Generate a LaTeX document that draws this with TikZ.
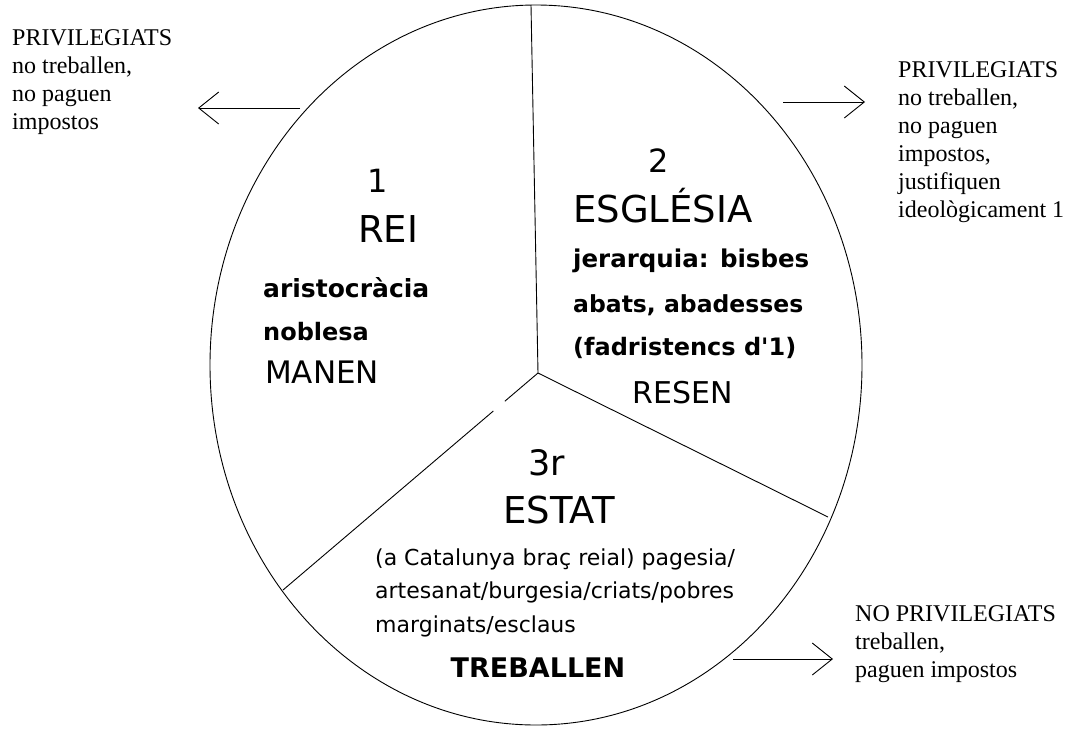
\documentclass[tikz,border=0pt]{standalone}
\usepackage{fontspec}
\setmainfont{Liberation Serif}
\newfontfamily\cs{DejaVu Sans}
\usetikzlibrary{arrows.meta,calc}
\begin{document}
\begin{tikzpicture}[x=1pt,y=-1pt,
  ln/.style={line width=0.9pt, black},
  arr/.style={ln, -{Straight Barb[length=20pt,width=32pt]}},
  t/.style={inner sep=0pt, anchor=base west},
  ser/.style={t, font=\fontsize{24}{28}\selectfont},
  csr/.style={t, font=\cs\fontsize{#1}{#1}\selectfont},
  csb/.style={t, font=\cs\bfseries\fontsize{#1}{#1}\selectfont}
]
\useasboundingbox (0,0) rectangle (1072,729);
% ellipse and dividers
\draw[ln] (536,365) ellipse [x radius=326pt, y radius=360pt];
\coordinate (c) at (538,373);
\coordinate (top) at (531,5);
\coordinate (rb) at (828,517);
\coordinate (lb) at (283,590);
\draw[ln] (c) -- (top);
\draw[ln] (c) -- (rb);
\draw[ln] (c) -- ($(c)!0.13!(lb)$);
\draw[ln] ($(c)!0.175!(lb)$) -- (lb);
% arrows
\coordinate (a1s) at (300,108); \coordinate (a1e) at (198,108);
\coordinate (a2s) at (783,102); \coordinate (a2e) at (865,102);
\coordinate (a3s) at (733,659); \coordinate (a3e) at (833,659);
\draw[arr] (a1s) -- (a1e);
\draw[arr] (a2s) -- (a2e);
\draw[arr] (a3s) -- (a3e);
% outer texts left
\node[ser] (L1) at (12,45) {PRIVILEGIATS};
\node[ser] (L2) at (12,73) {no treballen,};
\node[ser] (L3) at (12,101) {no paguen};
\node[ser] (L4) at (12,129) {impostos};
% outer texts right top
\node[ser] (R1) at (898,77) {PRIVILEGIATS};
\node[ser] (R2) at (898,105) {no treballen,};
\node[ser] (R3) at (898,133) {no paguen};
\node[ser] (R4) at (898,161) {impostos,};
\node[ser] (R5) at (898,189) {justifiquen};
\node[ser] (R6) at (898,217) {ideològicament 1};
% outer texts bottom right
\node[ser] (B1) at (855,621) {NO PRIVILEGIATS};
\node[ser] (B2) at (855,649) {treballen,};
\node[ser] (B3) at (855,677) {paguen impostos};
% sector 1
\node[csr=32, anchor=base] (n1) at (378,192) {1};
\node[csr=37] (rei) at (358,242) {REI};
\node[csb=25] (ar) at (263,297) {aristocràcia};
\node[csb=24] (nob) at (263,340) {noblesa};
\node[csr=31] (man) at (265,383) {MANEN};
% sector 2
\node[csr=32, anchor=base] (n2) at (659,172) {2};
\node[csr=37] (esg) at (573,222) {ESGLÉSIA};
\node[csb=24.5] (jer) at (573,267) {jerarquia: bisbes};
\node[csb=23.5] (aba) at (573,312) {abats, abadesses};
\node[csb=24] (fad) at (573,355) {(fadristencs d'1)};
\node[csr=30] (res) at (632,403) {RESEN};
% sector 3
\node[csr=35] (n3) at (528,475) {3r};
\node[csr=37] (est) at (503,523) {ESTAT};
\node[csr=22] (e1) at (375,565) {(a Catalunya braç reial) pagesia/};
\node[csr=22] (e2) at (375,598) {artesanat/burgesia/criats/pobres};
\node[csr=22] (e3) at (375,632) {marginats/esclaus};
\node[csb=27, anchor=base] (tre) at (538,677) {TREBALLEN};
\end{tikzpicture}
\end{document}
